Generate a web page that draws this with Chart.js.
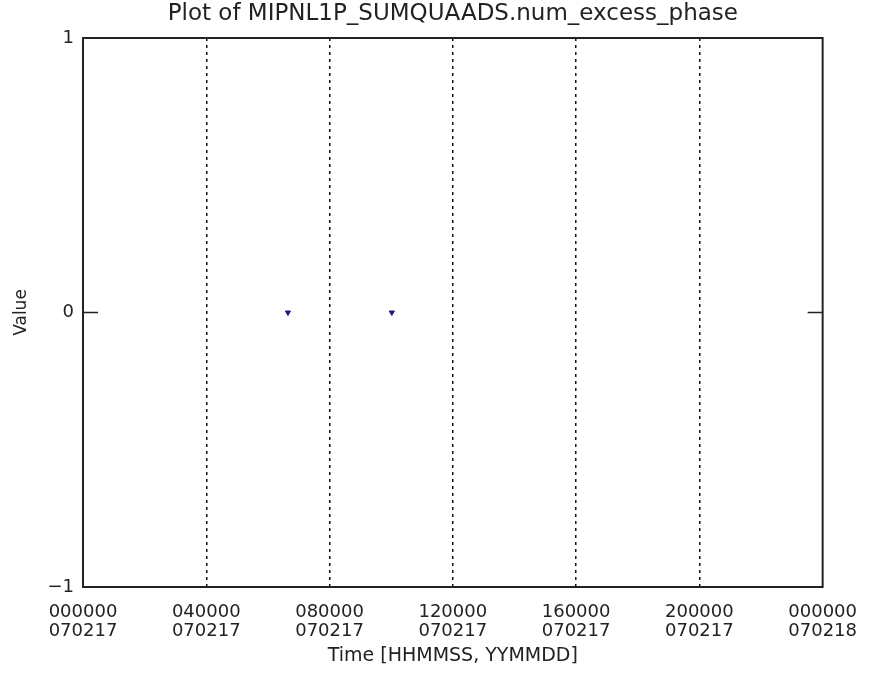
<!DOCTYPE html>
<html lang="en">
<head>
    <meta charset="UTF-8">
    <title>Plot of MIPNL1P_SUMQUAADS.num_excess_phase</title>
    <style>
        body {
            background-color: #fff;
            margin: 0;
            padding: 0;
        }
        canvas {
            display: block;
        }
    </style>
    <script src="https://cdn.jsdelivr.net/npm/chart.js"></script>
</head>
<body>
    <canvas id="phaseChart" width="873" height="675"></canvas>

    <script>
        // hours since 000000 on 070217
        var tickHours = [0, 4, 8, 12, 16, 20, 24];
        var timeLabels = ['000000', '040000', '080000', '120000', '160000', '200000', '000000'];
        var dateLabels = ['070217', '070217', '070217', '070217', '070217', '070217', '070218'];
        var sampleHours = [6.65, 10.02];
        var sampleValues = [0, 0];

        var fontFamily = '"DejaVu Sans", Arial, sans-serif';

        // frame round the plot area plus the little inward ticks at zero
        var framePlugin = {
            id: 'frame',
            afterDraw: function(chart) {
                var ctx = chart.ctx;
                var a = chart.chartArea;
                var y0 = chart.scales.y.getPixelForValue(0);
                ctx.save();
                ctx.strokeStyle = '#222';
                ctx.lineWidth = 2;
                ctx.strokeRect(a.left, a.top, a.right - a.left, a.bottom - a.top);
                ctx.beginPath();
                ctx.moveTo(a.left, y0);
                ctx.lineTo(a.left + 15, y0);
                ctx.moveTo(a.right, y0);
                ctx.lineTo(a.right - 15, y0);
                ctx.lineWidth = 1.5;
                ctx.stroke();
                ctx.restore();
            }
        };

        var ctx = document.getElementById('phaseChart').getContext('2d');
        var chart = new Chart(ctx, {
            type: 'scatter',
            data: {
                datasets: [{
                    data: sampleHours.map(function(h, i) { return { x: h, y: sampleValues[i] }; }),
                    pointStyle: 'triangle',
                    rotation: 180,
                    radius: 3,
                    backgroundColor: '#1c1c7a',
                    borderColor: '#1c1c7a',
                    borderWidth: 1
                }]
            },
            options: {
                responsive: false,
                animation: false,
                layout: {
                    padding: { left: 0, right: 50, top: 0, bottom: 0 }
                },
                plugins: {
                    legend: { display: false },
                    tooltip: { enabled: false },
                    title: {
                        display: true,
                        text: 'Plot of MIPNL1P_SUMQUAADS.num_excess_phase',
                        color: '#222',
                        fullSize: false,
                        font: { family: fontFamily, size: 23, weight: 'normal', lineHeight: 1.0 },
                        padding: { top: 3, bottom: 12 }
                    }
                },
                scales: {
                    x: {
                        type: 'linear',
                        min: 0,
                        max: 24,
                        afterFit: function(scale) { scale.height = 88; },
                        afterBuildTicks: function(scale) {
                            scale.ticks = tickHours.map(function(h) { return { value: h }; });
                        },
                        ticks: {
                            color: '#222',
                            padding: 16,
                            maxRotation: 0,
                            autoSkip: false,
                            font: { family: fontFamily, size: 18, lineHeight: 1.06 },
                            callback: function(value, index) {
                                return [timeLabels[index], dateLabels[index]];
                            }
                        },
                        grid: {
                            drawTicks: false,
                            color: function(c) {
                                return (c.index === 0 || c.index === tickHours.length - 1) ? 'rgba(0,0,0,0)' : '#111';
                            },
                            lineWidth: 1.5
                        },
                        border: { display: false, dash: [3, 4] },
                        title: {
                            display: true,
                            text: 'Time [HHMMSS, YYMMDD]',
                            color: '#222',
                            font: { family: fontFamily, size: 19 },
                            padding: { top: 0, bottom: 8 }
                        }
                    },
                    y: {
                        min: -1,
                        max: 1,
                        afterFit: function(scale) { scale.width = 83; },
                        ticks: {
                            stepSize: 1,
                            color: '#222',
                            padding: 9,
                            font: { family: fontFamily, size: 18 },
                            callback: function(value) {
                                return String(value).replace('-', '\u2212');
                            }
                        },
                        grid: { display: false, drawTicks: false },
                        border: { display: false },
                        title: {
                            display: true,
                            text: 'Value',
                            color: '#222',
                            font: { family: fontFamily, size: 17 },
                            padding: { top: 11, bottom: 0 }
                        }
                    }
                }
            },
            plugins: [framePlugin]
        });
    </script>
</body>
</html>
